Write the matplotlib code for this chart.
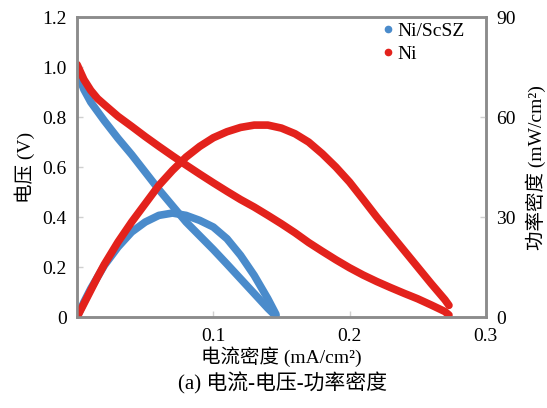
import matplotlib
matplotlib.use("Agg")
import matplotlib.pyplot as plt
from matplotlib.lines import Line2D

# current density (A/cm2 scale of the axis), voltage (V), power density (mW/cm2)
scsz_current = [0, 0.005, 0.01, 0.02, 0.03, 0.04, 0.05, 0.06, 0.07, 0.08,
                0.09, 0.10, 0.11, 0.12, 0.13, 0.14, 0.146]
scsz_voltage = [0.98, 0.91, 0.86, 0.785, 0.715, 0.65, 0.58, 0.51, 0.445, 0.38,
                0.325, 0.27, 0.212, 0.153, 0.094, 0.035, 0.003]
scsz_power = [0, 4.5, 8.5, 15.5, 21, 25.5, 28.5, 30.5, 31.2, 30.5,
              29, 27, 23.5, 18.5, 12.5, 5.5, 0.8]

ni_current = [0, 0.005, 0.01, 0.015, 0.02, 0.03, 0.04, 0.05, 0.06, 0.07,
              0.08, 0.09, 0.10, 0.11, 0.12, 0.13, 0.14, 0.15, 0.16, 0.17,
              0.18, 0.19, 0.20, 0.21, 0.22, 0.23, 0.24, 0.25, 0.26, 0.27,
              0.273]
ni_voltage = [1.01, 0.95, 0.907, 0.874, 0.85, 0.803, 0.763, 0.722, 0.683, 0.645,
              0.608, 0.572, 0.537, 0.503, 0.47, 0.44, 0.407, 0.373, 0.337, 0.298,
              0.263, 0.229, 0.197, 0.168, 0.142, 0.118, 0.095, 0.073, 0.048, 0.022,
              0.008]
ni_power = [0, 4, 8, 12, 15.8, 22.5, 28.5, 34, 39.5, 44,
            48, 51.2, 53.8, 55.6, 56.9, 57.6, 57.6, 56.7, 55, 52.5,
            49, 45, 40.5, 35.3, 30, 25, 20, 15, 10, 5.2,
            3.5]

x_ticks = [0.1, 0.2, 0.3]
x_tick_labels = ["0.1", "0.2", "0.3"]
v_ticks = [0, 0.2, 0.4, 0.6, 0.8, 1.0, 1.2]
v_tick_labels = ["0", "0.2", "0.4", "0.6", "0.8", "1.0", "1.2"]
p_ticks = [0, 30, 60, 90]

BLUE = "#4a8bcb"
RED = "#e3221c"
SPINE = "#8c8c8c"

plt.rcParams["font.family"] = ["Liberation Serif", "Noto Sans CJK SC"]

fig = plt.figure(figsize=(5.47, 4.08), dpi=100)
ax = fig.add_axes([0.141, 0.223, 0.747, 0.735])
ax2 = ax.twinx()

style = dict(lw=5.5, solid_capstyle="round", solid_joinstyle="round")
ax.plot(scsz_current, scsz_voltage, color=BLUE, **style)
ax.plot(ni_current, ni_voltage, color=RED, **style)
ax2.plot(scsz_current, scsz_power, color=BLUE, **style)
ax2.plot(ni_current, ni_power, color=RED, **style)

ax.set_xlim(0, 0.3)
ax.set_ylim(0, 1.2)
ax2.set_ylim(0, 90)
ax.set_xticks(x_ticks, x_tick_labels)
ax.set_yticks(v_ticks, v_tick_labels)
ax2.set_yticks(p_ticks, [str(t) for t in p_ticks])

for a in (ax, ax2):
    for s in a.spines.values():
        s.set_color(SPINE)
        s.set_linewidth(1.8)
    a.tick_params(direction="in", length=4, width=1, color="#d0d0d0",
                  labelsize=14, pad=7.5)
ax.tick_params(axis="x", pad=8)

ax.set_xlabel("电流密度 (mA/cm²)", fontsize=14, labelpad=1)
ax.set_ylabel("电压 (V)", fontsize=14, labelpad=5)
ax2.set_ylabel("功率密度 (mW/cm²)", fontsize=14, labelpad=7)

handles = [
    Line2D([], [], ls="none", marker="o", ms=4.5, color=BLUE, label="Ni/ScSZ"),
    Line2D([], [], ls="none", marker="o", ms=4.5, color=RED, label="Ni"),
]
ax2.legend(handles=handles, loc="upper left", bbox_to_anchor=(0.722, 1.01),
           borderaxespad=0, frameon=False, fontsize=14, handlelength=0.8,
           handletextpad=0.1, labelspacing=0.3)

fig.text(0.517, 0.061, "(a) 电流-电压-功率密度", ha="center", va="center",
         fontsize=15)

fig.savefig("out.png", dpi=100)
